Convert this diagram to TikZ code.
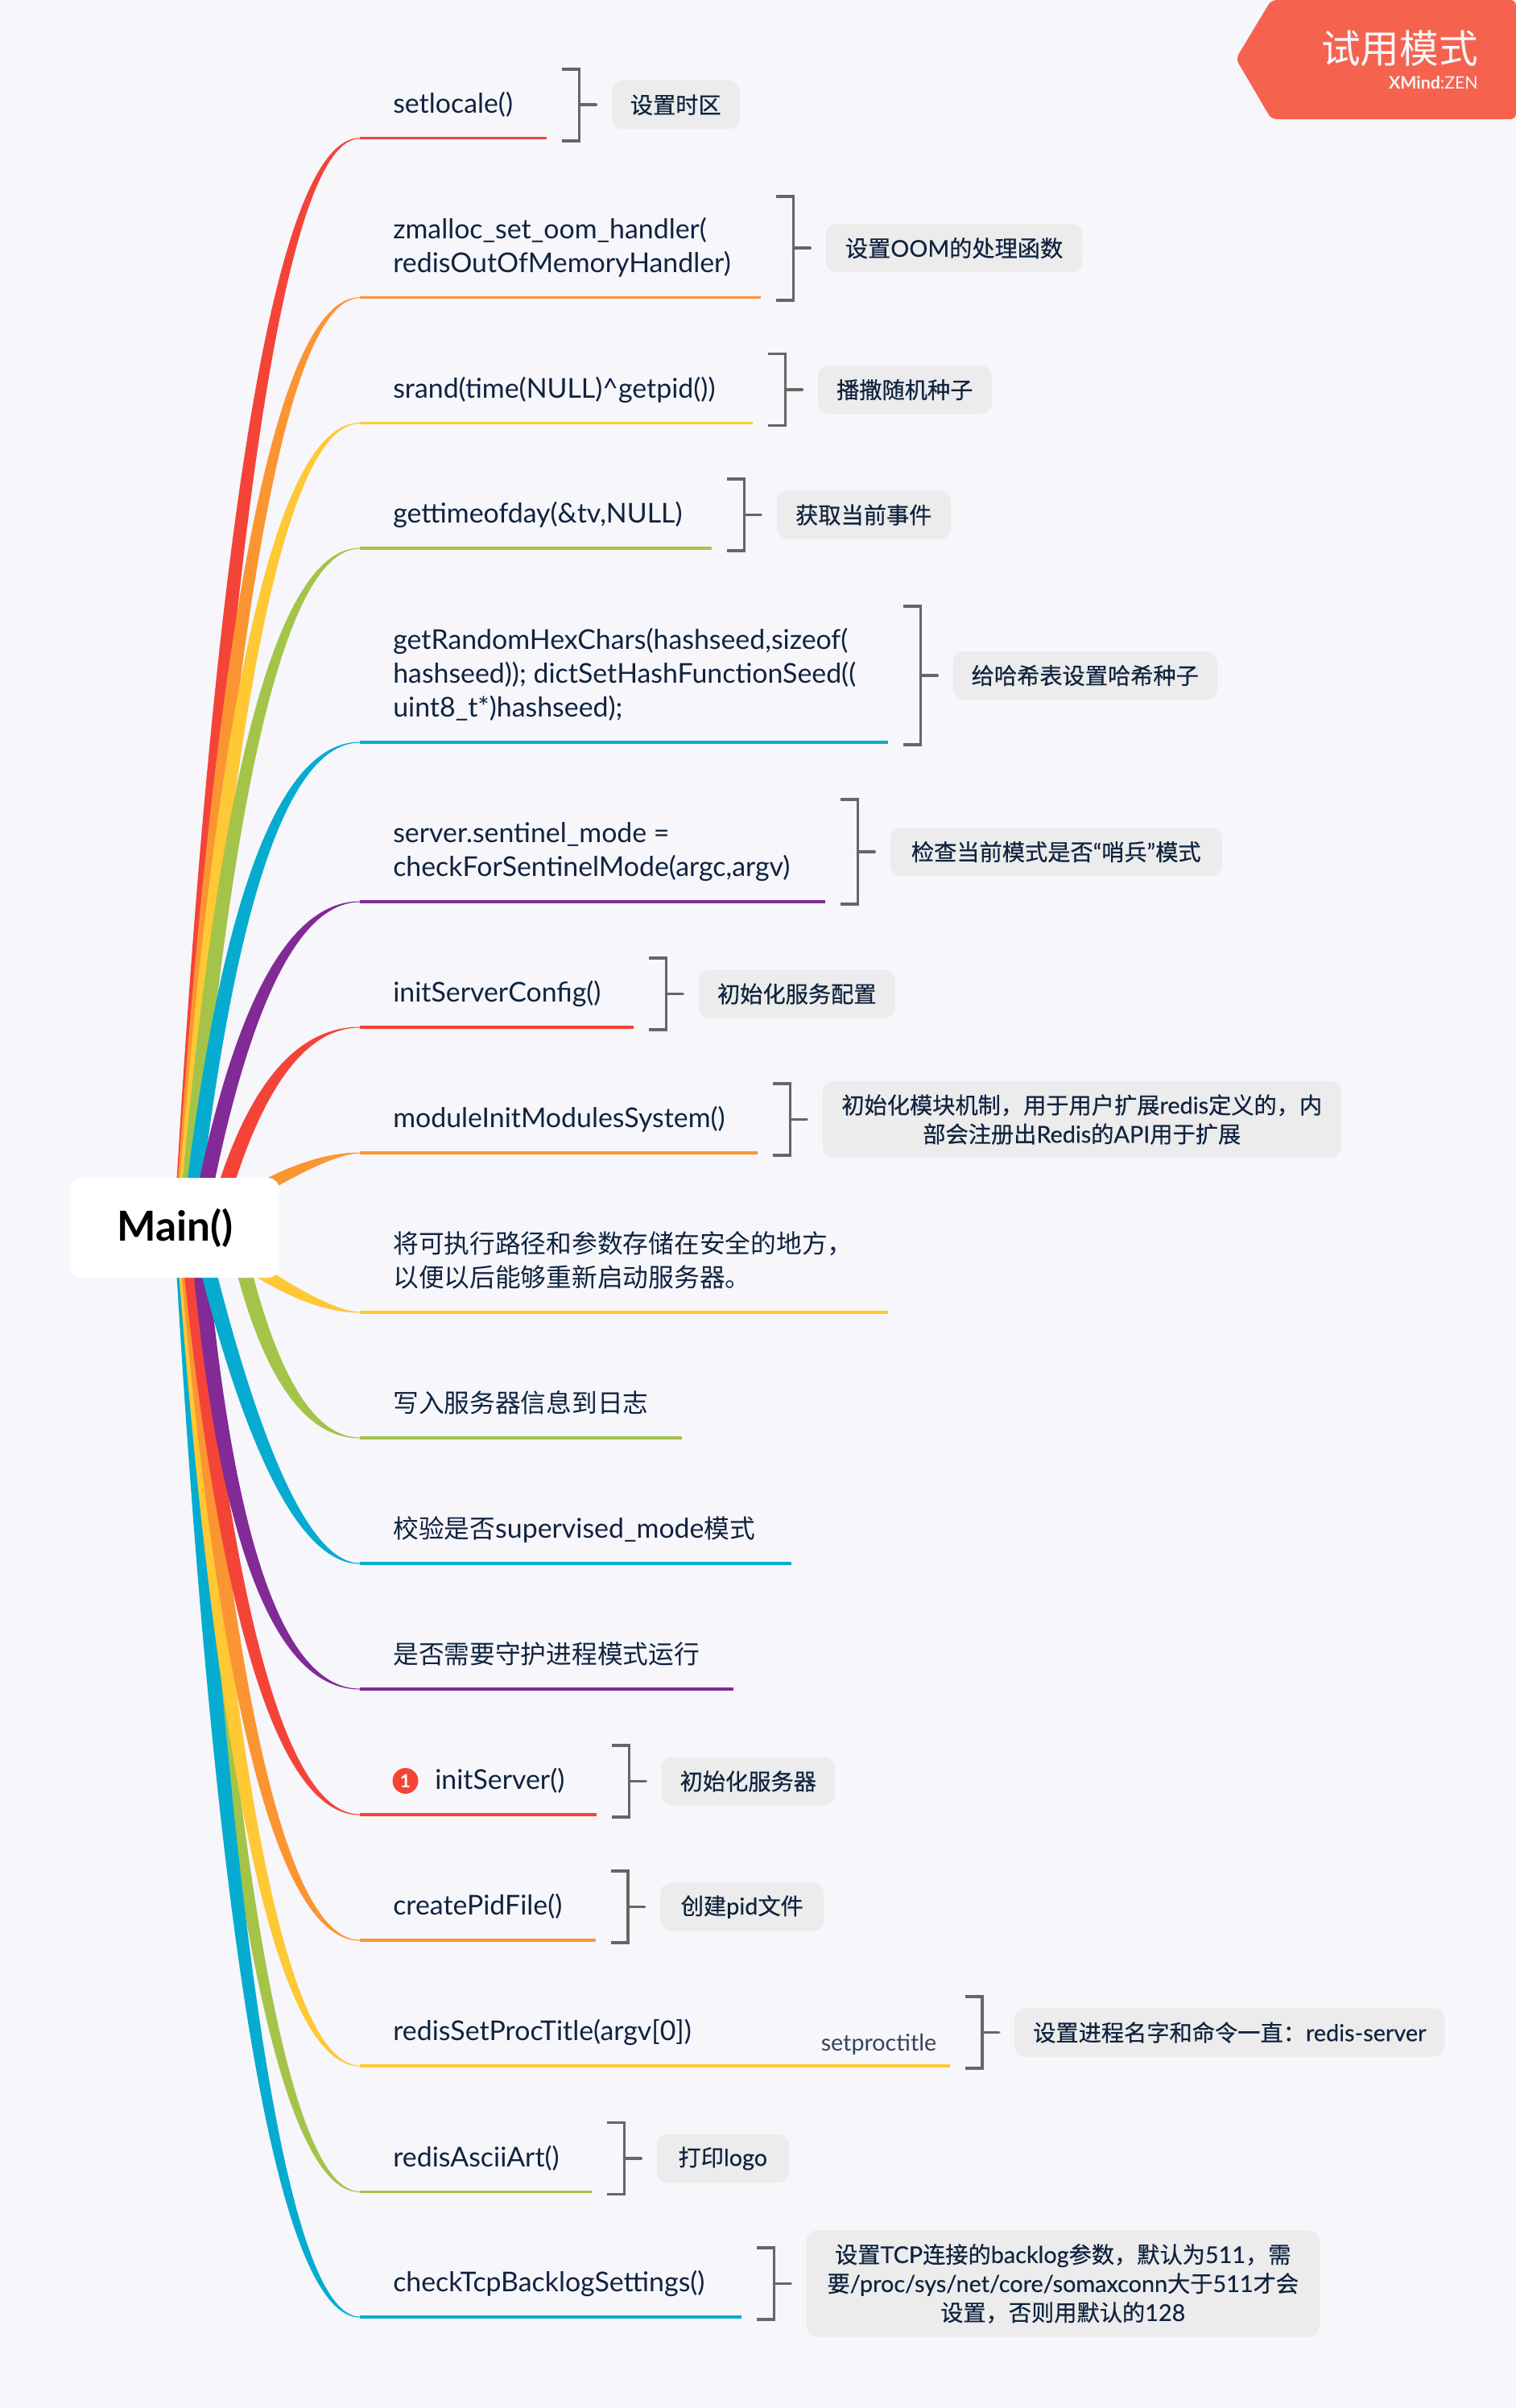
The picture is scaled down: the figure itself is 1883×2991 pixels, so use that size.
\documentclass[tikz,border=0pt]{standalone}
\usepackage{fontspec}
\setmainfont{Lato}
\newfontfamily\cjkreg{Noto Sans CJK SC}
\newfontfamily\cjktopic[Scale=0.937]{Noto Sans CJK SC}
\newfontfamily\cjkmed[FakeBold=0.5,Scale=0.98]{Noto Sans CJK SC}
\newfontfamily\latmed[FakeBold=0.3]{Lato}
\let\zhf\cjkreg
\newcommand\Z[1]{{\zhf #1}}
\definecolor{pagebg}{HTML}{F6F6FB}
\definecolor{cRed}{HTML}{F44438}
\definecolor{cOrange}{HTML}{FB9532}
\definecolor{cYellow}{HTML}{FFC835}
\definecolor{cGreen}{HTML}{A4C449}
\definecolor{cBlue}{HTML}{06ACD0}
\definecolor{cPurple}{HTML}{822A96}
\definecolor{inkc}{HTML}{10233F}
\definecolor{chipc}{HTML}{ECECEC}
\definecolor{brkc}{HTML}{666666}
\definecolor{flagc}{HTML}{F5634F}
\pgfdeclarelayer{under}
\pgfsetlayers{under,main}
\tikzset{
  topic/.style={inner sep=0pt,anchor=base west,align=left,text=inkc,
    font=\fontsize{25.4}{31.5}\selectfont\let\zhf\cjktopic},
  chip/.style={fill=chipc,rounded corners=10pt,inner sep=0pt,align=center,text=inkc,anchor=west,
    font=\fontsize{21.6}{27}\selectfont\latmed\let\zhf\cjkmed},
  brk/.style={draw=brkc,line width=2.7pt,line join=miter},
  tick/.style={draw=brkc,line width=2.7pt,line cap=round},
  stemline/.style={line width=2.6pt},
}
% id, colour, end y, end x, root x, root y, control x, root width
\newcommand\branch[8]{%
  \pgfmathsetmacro\bYE{#3-1525}%
  \pgfmathsetmacro\bAx{#5-217}%
  \pgfmathsetmacro\bAy{#6-1525}%
  \pgfmathsetmacro\bC{#7-217}%
  \pgfmathsetmacro\bDx{\bC-\bAx}%
  \pgfmathsetmacro\bDy{\bYE-\bAy}%
  \pgfmathsetmacro\bL{100*veclen(\bDx/100,\bDy/100)}%
  \pgfmathsetmacro\bUx{\bDx/\bL}%
  \pgfmathsetmacro\bUy{\bDy/\bL}%
  \pgfmathsetmacro\bH{#8/2}%
  % upper edge
  \pgfmathsetmacro\aX{\bAx+\bH*\bUy}%
  \pgfmathsetmacro\aY{\bAy-\bH*\bUx}%
  \pgfmathsetmacro\aE{\bYE-0.5}%
  \pgfmathsetmacro\aK{(\aE-\aY)/\bUy}%
  \pgfmathsetmacro\aC{\aX+\aK*\bUx}%
  \pgfmathsetmacro\aPx{\aX+2/3*(\aC-\aX)}%
  \pgfmathsetmacro\aPy{\aY+2/3*(\aE-\aY)}%
  \pgfmathsetmacro\aQx{230+2/3*(\aC-230)}%
  % lower edge
  \pgfmathsetmacro\dX{\bAx-\bH*\bUy}%
  \pgfmathsetmacro\dY{\bAy+\bH*\bUx}%
  \pgfmathsetmacro\dE{\bYE+0.5}%
  \pgfmathsetmacro\dK{(\dE-\dY)/\bUy}%
  \pgfmathsetmacro\dC{\dX+\dK*\bUx}%
  \pgfmathsetmacro\dPx{\dX+2/3*(\dC-\dX)}%
  \pgfmathsetmacro\dPy{\dY+2/3*(\dE-\dY)}%
  \pgfmathsetmacro\dQx{230+2/3*(\dC-230)}%
  \coordinate (s#1) at (447,#3);
  \coordinate (e#1) at (#4,#3);
  \fill[#2] ([shift={(\aX,\aY)}]main.center)
     .. controls ([shift={(\aPx,\aPy)}]main.center) and ([shift={(\aQx,\aE)}]main.center) .. ([shift={(0,-0.5)}]s#1)
     -- ([shift={(0,0.5)}]s#1)
     .. controls ([shift={(\dQx,\dE)}]main.center) and ([shift={(\dPx,\dPy)}]main.center) .. ([shift={(\dX,\dY)}]main.center) -- cycle;
  \draw[#2,stemline] (s#1) -- (e#1);
}
% id, height, chip width, chip height, text
\newcommand\summary[5]{%
  \pgfmathsetmacro\sT{3-#2}%
  \pgfmathsetmacro\sM{3-#2/2}%
  \pgfmathsetmacro\sW{#3*0.75}%
  \pgfmathsetmacro\sH{#4*0.75}%
  \node[chip,minimum width=\sW pt,minimum height=\sH pt] (c#1) at ([shift={(80.5,\sM)}]e#1) {#5};
  \coordinate (b#1) at ([shift={(40.5,\sM)}]e#1);
  \draw[brk] ([shift={(19,\sT)}]e#1) -- ([shift={(40.5,\sT)}]e#1) -- ([shift={(40.5,3)}]e#1) -- ([shift={(19,3)}]e#1);
  \draw[tick,shorten >=14.5pt] (b#1) -- (c#1.west);
}
\begin{document}
\begin{tikzpicture}[x=0.75pt,y=-0.75pt]
\useasboundingbox (0,0) rectangle (1883,2991);
\node[fill=white,rounded corners=10.5pt,minimum width=194.25pt,minimum height=93pt,inner sep=0pt,
  font=\fontsize{38.5}{42}\selectfont\bfseries,text=black] (main) at (217.5,1525) {\raisebox{-2pt}{Main()}};
\begin{pgfonlayer}{under}
\fill[pagebg] (0,0) rectangle (1883,2991);
\branch{1}{cRed}{171.7}{679}{225}{1525}{303}{19}
\branch{2}{cOrange}{369.7}{945}{225.8}{1525}{303}{19}
\branch{3}{cYellow}{525.6}{935}{227.6}{1525}{303}{19}
\branch{4}{cGreen}{681}{884}{230.5}{1525}{303}{19}
\branch{5}{cBlue}{922}{1103}{234.7}{1525}{303}{19}
\branch{6}{cPurple}{1120}{1025}{245}{1525}{320}{19}
\branch{7}{cRed}{1276}{787}{265}{1525}{330}{19}
\branch{8}{cOrange}{1432}{941}{300}{1490}{395}{16}
\branch{16}{cGreen}{2722.5}{735}{225.7}{1525}{303}{19}
\branch{17}{cBlue}{2878}{921}{225}{1525}{303}{19}
\branch{15}{cYellow}{2566}{1179.6}{227}{1525}{303}{19}
\branch{14}{cOrange}{2410}{739.5}{229.5}{1525}{303}{19}
\branch{13}{cRed}{2254}{741}{232}{1525}{303}{19}
\branch{12}{cPurple}{2098}{911}{244.6}{1525}{292}{19}
\branch{11}{cBlue}{1942}{983}{245}{1525}{345}{19}
\branch{10}{cGreen}{1786}{847}{290}{1525}{346}{19}
\branch{9}{cYellow}{1630}{1103}{300}{1565}{395}{16}
\end{pgfonlayer}
% topic labels
\node[topic] (t1) at ([shift={(41,-31.5)}]s1) {setlocale()};
\node[topic] (t2) at ([shift={(41,-31.5)}]s2) {zmalloc\_set\_oom\_handler(\\redisOutOfMemoryHandler)};
\node[topic] (t3) at ([shift={(41,-31.5)}]s3) {srand(time(NULL)\^{}getpid())};
\node[topic] (t4) at ([shift={(41,-31.5)}]s4) {gettimeofday(\&tv,NULL)};
\node[topic] (t5) at ([shift={(41,-31.5)}]s5) {getRandomHexChars(hashseed,sizeof(\\hashseed)); dictSetHashFunctionSeed((\\uint8\_t*)hashseed);};
\node[topic] (t6) at ([shift={(41,-31.5)}]s6) {server.sentinel\_mode =\\checkForSentinelMode(argc,argv)};
\node[topic] (t7) at ([shift={(41,-31.5)}]s7) {initServerConfig()};
\node[topic] (t8) at ([shift={(41,-31.5)}]s8) {moduleInitModulesSystem()};
\node[topic] (t9) at ([shift={(41,-31.5)}]s9) {\Z{将可执行路径和参数存储在安全的地方，}\\\Z{以便以后能够重新启动服务器。}};
\node[topic] (t10) at ([shift={(41,-31.5)}]s10) {\Z{写入服务器信息到日志}};
\node[topic] (t11) at ([shift={(41,-31.5)}]s11) {\Z{校验是否}supervised\_mode\Z{模式}};
\node[topic] (t12) at ([shift={(41,-31.5)}]s12) {\Z{是否需要守护进程模式运行}};
\node[topic] (t13) at ([shift={(93,-31.5)}]s13) {initServer()};
\node[fill=white,circle,minimum size=25.4pt,inner sep=0pt] (badgering) at (503.5,2212) {};
\node[fill=cRed,circle,minimum size=24pt,inner sep=0pt,text=white,font=\fontsize{17}{17}\selectfont\bfseries] (badge) at (503.5,2212) {1};
\node[topic] (t14) at ([shift={(41,-31.5)}]s14) {createPidFile()};
\node[topic] (t15) at ([shift={(41,-31.5)}]s15) {redisSetProcTitle(argv[0])};
\node[topic] (t16) at ([shift={(41,-31.5)}]s16) {redisAsciiArt()};
\node[topic] (t17) at ([shift={(41,-31.5)}]s17) {checkTcpBacklogSettings()};
\node[inner sep=0pt,anchor=base west,text=inkc!85,font=\fontsize{21.5}{24}\selectfont] (lbl15) at (1019.5,2547.7) {setproctitle};
% summaries
\summary{1}{89}{159}{60}{\Z{设置时区}}
\summary{2}{129}{318.5}{60}{\Z{设置}OOM\Z{的处理函数}}
\summary{3}{89}{216}{60}{\Z{播撒随机种子}}
\summary{4}{89}{216}{60}{\Z{获取当前事件}}
\summary{5}{172}{328}{60}{\Z{给哈希表设置哈希种子}}
\summary{6}{130}{412}{60}{\Z{检查当前模式是否}“\Z{哨兵}”\Z{模式}}
\summary{7}{89}{244}{60}{\Z{初始化服务配置}}
\summary{8}{89}{644}{95}{\Z{初始化模块机制，用于用户扩展}redis\Z{定义的，内}\\\Z{部会注册出}Redis\Z{的}API\Z{用于扩展}}
\summary{13}{89}{215}{60}{\Z{初始化服务器}}
\summary{14}{89}{203}{60}{\Z{创建}pid\Z{文件}}
\summary{15}{89}{534}{60}{\Z{设置进程名字和命令一直：}redis-server}
\summary{16}{89}{164}{60}{\Z{打印}logo}
\summary{17}{89}{637}{132}{\Z{设置}TCP\Z{连接的}backlog\Z{参数，默认为}511\Z{，需}\\\Z{要}/proc/sys/net/core/somaxconn\Z{大于}511\Z{才会}\\\Z{设置，否则用默认的}128}
% trial-mode flag
\fill[flagc,rounded corners=5pt] (1579,0) -- (1535,73) -- (1579,148) -- (1883,148) -- (1883,0) -- cycle;
\node[inner sep=0pt,anchor=base east,text=pagebg,font=\fontsize{36.5}{40}\selectfont\cjkreg] (flag) at (1836,78) {试用模式};
\node[inner sep=0pt,anchor=base east,text=pagebg,font=\fontsize{16}{18}\selectfont] (flagsub) at (1836,110) {\textbf{XMind}:ZEN};
\end{tikzpicture}
\end{document}
